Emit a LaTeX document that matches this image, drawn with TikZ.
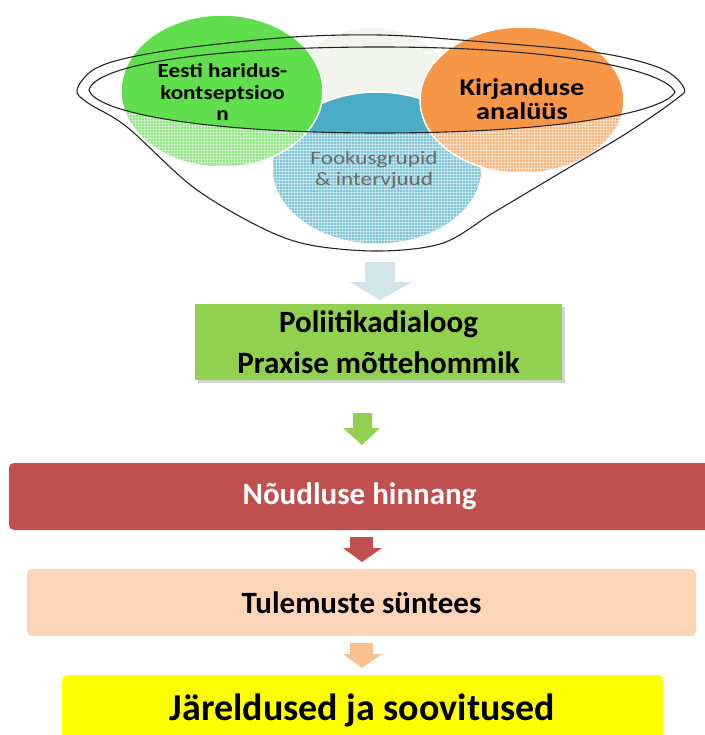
\documentclass[tikz,border=0pt]{standalone}
\usepackage{fontspec}
\usepackage{graphicx}
\setmainfont{Carlito}
\usetikzlibrary{patterns,shadows}
\newcommand\sx[2]{\scalebox{#1}[1]{#2}}
\definecolor{cgreen}{HTML}{5FDF4B}
\definecolor{corange}{HTML}{F79646}
\definecolor{cblue}{HTML}{4BACC6}
\definecolor{cfaint}{HTML}{F2F5EE}
\definecolor{bgreen}{HTML}{92D050}
\definecolor{bred}{HTML}{C0504D}
\definecolor{bpeach}{HTML}{FBD5B5}
\definecolor{apeach}{HTML}{FAC090}
\definecolor{ablue}{HTML}{D3E3EA}
\definecolor{byellow}{HTML}{FFFF00}
\begin{document}
\begin{tikzpicture}[x=1pt,y=-1pt,
  blob/.style={draw=white,line width=1.5pt},
  funnelline/.style={draw=black!85,line width=1.1pt},
  ctext/.style={align=center,text=black,inner sep=0pt},
  btext/.style={font=\bfseries\fontsize{31}{41}\selectfont,align=center},
  band/.style={rounded corners=5pt}]
\useasboundingbox (0,0) rectangle (704,735);
% circles
\fill[cfaint] (372,100) ellipse [x radius=85,y radius=72];
\path[blob,fill=cblue] (377,168) ellipse [x radius=105,y radius=76];
\path[blob,fill=cgreen] (222,91) ellipse [x radius=101,y radius=76];
\path[blob,fill=corange] (522,100) ellipse [x radius=102,y radius=73];
% texture on the lower parts
\begin{scope}
\clip (0,90) -- (89,90) .. controls (95,112) and (200,133) .. (380,133)
      .. controls (560,133) and (665,112) .. (675,92) -- (704,92) -- (704,300) -- (0,300) -- cycle;
\fill[white,opacity=0.3] (377,168) ellipse [x radius=104,y radius=75]
   (222,91) ellipse [x radius=100,y radius=75] (522,100) ellipse [x radius=101,y radius=72];
\fill[pattern=grid,pattern color=white,opacity=0.45] (377,168) ellipse [x radius=104,y radius=75]
   (222,91) ellipse [x radius=100,y radius=75] (522,100) ellipse [x radius=101,y radius=72];
\end{scope}
% funnel
\draw[funnelline] plot[smooth cycle,tension=0.55] coordinates {(77,90) (93,70) (127,58) (193,47) (293,37) (380,35) (460,40) (593,52) (660,68) (684,88) (675,100) (627,133) (560,173) (493,213) (443,243) (380,251) (310,245) (260,227) (193,187) (127,127) (88,103)};
\draw[funnelline] (89,90) .. controls (95,66) and (200,47) .. (380,47)
      .. controls (560,47) and (665,70) .. (675,92)
      .. controls (665,112) and (560,133) .. (380,133)
      .. controls (200,133) and (95,112) .. (89,90) -- cycle;
% circle texts
\node[ctext,font=\bfseries\fontsize{20}{21.5}\selectfont] (eesti) at (222.5,92)
   {\sx{1.16}{Eesti haridus-}\\\sx{1.16}{kontseptsioo}\\\sx{1.16}{n}};
\node[ctext,font=\bfseries\fontsize{24}{24}\selectfont] (kirj) at (522,99)
   {\sx{1.18}{Kirjanduse}\\\sx{1.18}{analüüs}};
\node[ctext,font=\fontsize{19}{21}\selectfont,text=black!58] (fook) at (374,170)
   {\sx{1.22}{Fookusgrupid}\\\sx{1.22}{\&\ intervjuud}};
% boxes
\node[btext,fill=bgreen,minimum width=367pt,minimum height=76pt,inner sep=0pt,
      drop shadow={shadow xshift=3pt,shadow yshift=-3pt,opacity=0.35}] (poli) at (378.5,342) {Poliitikadialoog\\Praxise mõttehommik};
\node[btext,band,fill=bred,text=white,minimum width=701pt,minimum height=67pt,inner sep=0pt] (noud) at (359.5,496.5) {Nõudluse hinnang};
\node[btext,band,fill=bpeach,text=black,minimum width=669pt,minimum height=67pt,inner sep=0pt] (tule) at (361.5,602.5) {Tulemuste süntees};
\node[band,fill=byellow,minimum width=601pt,minimum height=70pt,inner sep=0pt,
      font=\bfseries\fontsize{38}{44}\selectfont] (jar) at (362.5,710) {Järeldused ja soovitused};
% block arrows
\fill[ablue] (365,262) -- (395,262) -- (395,282) -- (412,282) -- (380,300) -- (350,282) -- (365,282) -- cycle;
\fill[bgreen] (353,413) -- (372,413) -- (372,428) -- (380,428) -- (362,445) -- (343,428) -- (353,428) -- cycle;
\fill[bred] (350,537) -- (373,537) -- (373,548) -- (382,548) -- (362,562) -- (343,548) -- (350,548) -- cycle;
\fill[apeach] (350,643) -- (373,643) -- (373,654) -- (382,654) -- (362,668) -- (343,654) -- (350,654) -- cycle;
\end{tikzpicture}
\end{document}
